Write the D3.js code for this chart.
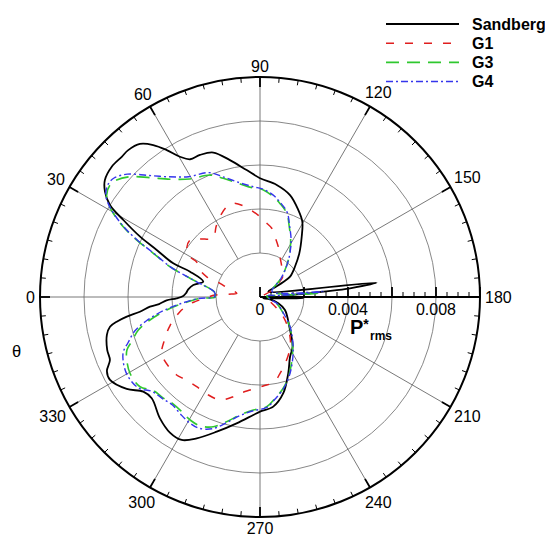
<!DOCTYPE html>
<html>
<head>
<meta charset="utf-8">
<script src="https://cdn.jsdelivr.net/npm/d3@7"></script>
<style>
  html, body { margin: 0; padding: 0; background: #fff; overflow: hidden; }
  text { font-family: "Liberation Sans", Arial, Helvetica, sans-serif; }
</style>
</head>
<body>
<svg id="chart" width="545" height="548"></svg>
<script>
// Directivity of rms pressure: theta in degrees, P*rms values
const seriesNames = ["Sandberg", "G1", "G3", "G4"];

const thetaSandberg = [0.75, 2.9, 6.1, 10.2, 15.1, 19.9, 21.2, 24.5, 26.7, 29.4, 31.5, 34.2, 37.0, 41.3, 45.4, 48.1, 51.9, 54.9, 57.6, 60.3, 63.1, 67.1, 72.1, 77.6, 84.0, 90, 98.5, 106.4, 113.8, 119.3, 124.7, 132.0, 139.1, 145.9, 147.2, 146.8, 147.4, 173.0, 174.5, 175.2, 176.0, 177.5, 181.7, 201.5, 193, 199, 207.5, 225.4, 236.7, 243.3, 249.7, 256.4, 263.1, 270, 273.25, 280.5, 287.8, 294.1, 298.7, 303.6, 309.5, 316.9, 320.95, 325.4, 331.05, 334.2, 337.2, 340.9, 346.1, 348.8, 350.2, 351.6, 353.0, 355.0, 356.0, 357.9, 359.1];
const pSandberg = [0.00349, 0.00337, 0.00328, 0.00308, 0.00267, 0.00338, 0.00423, 0.00516, 0.0061, 0.00713, 0.0080, 0.00852, 0.00883, 0.00897, 0.00895, 0.00897, 0.00884, 0.00844, 0.00791, 0.00734, 0.00702, 0.00701, 0.0069, 0.00637, 0.0058, 0.0054, 0.00515, 0.00483, 0.00432, 0.00393, 0.00333, 0.00267, 0.0021, 0.00165, 0.00126, 0.00072, 0.00045, 0.00534, 0.00411, 0.00289, 0.00197, 0.00106, 0.00196, 0.00016, 0.00047, 0.00088, 0.00128, 0.0019, 0.0027, 0.00304, 0.0037, 0.0045, 0.00502, 0.00521, 0.00537, 0.00584, 0.00643, 0.00704, 0.00741, 0.0074, 0.00715, 0.00674, 0.00683, 0.00736, 0.00779, 0.00773, 0.0074, 0.00735, 0.00717, 0.00695, 0.00661, 0.00612, 0.0055, 0.00502, 0.0046, 0.00425, 0.00379];

const thetaG1 = [2.5, 6.0, 9.0, 15.9, 18.9, 20.8, 24.2, 28.9, 29.9, 33.2, 39.2, 44.0, 51.6, 58.0, 63.5, 69.8, 74.1, 80.6, 90, 93.8, 99.7, 104.0, 110.0, 116.4, 125.6, 138.2, 144.3, 152.1, 163.1, 199.9, 214.1, 222.6, 232.9, 239.5, 249.5, 255.3, 260.6, 267.9, 276.1, 281.7, 285.0, 291.2, 298.8, 305.2, 312.8, 316.9, 321.6, 329.9, 336.5, 342.4, 349.6, 354.3, 355.9, 359.0];
const pG1 = [0.00205, 0.0013, 0.00107, 0.00157, 0.00192, 0.00259, 0.00299, 0.00329, 0.00367, 0.00398, 0.0041, 0.0038, 0.00342, 0.00377, 0.00408, 0.00437, 0.00443, 0.00416, 0.00365, 0.00343, 0.00317, 0.00282, 0.00243, 0.00204, 0.0017, 0.00139, 0.00094, 0.00051, 0.00016, 0.0004, 0.00092, 0.00154, 0.00226, 0.00269, 0.00325, 0.00359, 0.00392, 0.00405, 0.00425, 0.00447, 0.00469, 0.00502, 0.00503, 0.00499, 0.00508, 0.00519, 0.00522, 0.00516, 0.00471, 0.00429, 0.0037, 0.0032, 0.00296, 0.00245];

const thetaG3 = [0.5, 6.0, 13.5, 16.3, 18.6, 22.3, 24.8, 27.2, 29.7, 31.7, 33.6, 36.7, 39.2, 42.8, 47.3, 52.6, 59.3, 67.7, 72.8, 80.0, 86.5, 91.8, 97.6, 102.0, 107.7, 112.6, 118.3, 122.6, 127.4, 132.8, 139.6, 155.6, 176.1, 174.9, 171.5, 193.0, 200.7, 215.0, 224.9, 235.9, 243.1, 249.6, 255.6, 261.6, 266.5, 273.4, 279.6, 285.0, 289.8, 295.0, 299.6, 304.3, 309.0, 313.7, 318.8, 323.2, 329.6, 335.1, 338.3, 340.8, 344.8, 348.2, 352.1, 355.3, 358.6, 359.4];
const pG3 = [0.00204, 0.00207, 0.00296, 0.00363, 0.00432, 0.00524, 0.00617, 0.00699, 0.00768, 0.0081, 0.00837, 0.00851, 0.00841, 0.00805, 0.00738, 0.00674, 0.00624, 0.00599, 0.00565, 0.00522, 0.00496, 0.00487, 0.0046, 0.00435, 0.004, 0.00346, 0.00294, 0.00254, 0.00212, 0.00167, 0.00119, 0.00058, 0.00264, 0.00076, 0.00031, 0.00047, 0.00081, 0.00129, 0.00191, 0.00264, 0.00321, 0.00378, 0.00427, 0.00466, 0.005, 0.00515, 0.00544, 0.00587, 0.00627, 0.00646, 0.00643, 0.00631, 0.00626, 0.00636, 0.00645, 0.00681, 0.00685, 0.00668, 0.00651, 0.00618, 0.00573, 0.00511, 0.00428, 0.0035, 0.00273, 0.00205];

const thetaG4 = [0.5, 6.0, 13.5, 16.3, 18.6, 22.3, 24.8, 27.2, 29.7, 31.7, 33.6, 36.7, 39.2, 42.8, 47.3, 52.6, 59.3, 67.7, 72.8, 80.0, 86.5, 91.8, 97.6, 102.0, 107.7, 112.6, 118.3, 122.6, 127.4, 132.8, 139.6, 155.6, 175.0, 175.6, 171.5, 193.0, 200.7, 215.0, 224.9, 235.9, 243.1, 249.6, 255.6, 261.6, 266.5, 273.4, 279.6, 285.0, 289.8, 295.0, 299.6, 304.3, 309.0, 313.7, 318.8, 323.2, 329.6, 335.1, 338.3, 340.8, 344.8, 348.2, 352.1, 355.3, 358.6, 359.4];
const pG4 = [0.00206, 0.00208, 0.00298, 0.00362, 0.0043, 0.0052, 0.00612, 0.00694, 0.00765, 0.00812, 0.00842, 0.0086, 0.00856, 0.00822, 0.00752, 0.00688, 0.00636, 0.00611, 0.00572, 0.00527, 0.00502, 0.0049, 0.00466, 0.0044, 0.00405, 0.0035, 0.00298, 0.00257, 0.00214, 0.00168, 0.00121, 0.0006, 0.00287, 0.00095, 0.00033, 0.00049, 0.00083, 0.00131, 0.00194, 0.00268, 0.00326, 0.00382, 0.0043, 0.00469, 0.00503, 0.00518, 0.00547, 0.00592, 0.00636, 0.00658, 0.00655, 0.00643, 0.00632, 0.0064, 0.00652, 0.0069, 0.007, 0.00686, 0.00668, 0.00636, 0.0059, 0.00527, 0.0044, 0.0036, 0.0028, 0.0021];

// Axis ticks
const angleTickLabels = [0, 30, 60, 90, 120, 150, 180, 210, 240, 270, 300, 330];
const radialGridValues = [0.002, 0.004, 0.006, 0.008];
const radialTickValues = [0, 0.004, 0.008];
const radialTickLabels = ["0", "0.004", "0.008"];

const cx = 260, cy = 297, R = 220;
const rMax = 0.010;

const svg = d3.select("#chart");
const r = d3.scaleLinear().domain([0, rMax]).range([0, R]);
// theta = 0 points left, 90 up, 180 right (clockwise)
const ang = d3.scaleLinear().domain([0, 360]).range([-Math.PI / 2, 1.5 * Math.PI]);
const px = (t, v) => r(v) * Math.sin(ang(t));
const py = (t, v) => -r(v) * Math.cos(ang(t));

const g = svg.append("g").attr("transform", `translate(${cx},${cy})`);

// grid circles
g.selectAll("circle.grid").data(radialGridValues).join("circle")
  .attr("class", "grid").attr("r", d => r(d))
  .attr("fill", "none").attr("stroke", "#7a7a7a").attr("stroke-width", 0.9);

// spokes
const spokeAngles = angleTickLabels.filter(a => a !== 180);
g.selectAll("line.spoke").data(spokeAngles).join("line")
  .attr("class", "spoke")
  .attr("x1", d => px(d, 0.002)).attr("y1", d => py(d, 0.002))
  .attr("x2", d => px(d, rMax)).attr("y2", d => py(d, rMax))
  .attr("stroke", "#6a6a6a").attr("stroke-width", 0.9);

// angular ticks on the outer circle
const angTicks = d3.range(0, 360, 5);
const tickLen = d => (d % 30 === 0 ? 10 : 5);
g.selectAll("line.atick").data(angTicks).join("line")
  .attr("class", "atick")
  .attr("x1", d => px(d, rMax)).attr("y1", d => py(d, rMax))
  .attr("x2", d => px(d, r.invert(R - tickLen(d)))).attr("y2", d => py(d, r.invert(R - tickLen(d))))
  .attr("stroke", "#000").attr("stroke-width", d => d % 30 === 0 ? 1.8 : 1);

// outer circle
g.append("circle").attr("r", R).attr("fill", "none").attr("stroke", "#000").attr("stroke-width", 2);

// radial axis along theta = 180
g.append("line").attr("x1", 0).attr("y1", 0).attr("x2", r(rMax)).attr("y2", 0)
  .attr("stroke", "#000").attr("stroke-width", 2);
const radTicks = d3.range(0, rMax + 1e-9, 0.0005);
g.selectAll("line.rtick").data(radTicks).join("line")
  .attr("class", "rtick")
  .attr("x1", d => r(d)).attr("x2", d => r(d))
  .attr("y1", 0).attr("y2", (d, i) => i % 4 === 0 ? -10 : -5)
  .attr("stroke", "#000").attr("stroke-width", (d, i) => i % 4 === 0 ? 1.8 : 1);

g.selectAll("text.rlab").data(radialTickValues).join("text")
  .attr("class", "rlab")
  .attr("x", d => r(d)).attr("y", 17.5)
  .attr("text-anchor", "middle").attr("font-size", 16).attr("fill", "#000")
  .text((d, i) => radialTickLabels[i]);

// angular labels, pushed outward by their half extent
const capH = 11.5;
const alab = g.selectAll("text.alab").data(angleTickLabels).join("text")
  .attr("class", "alab")
  .attr("text-anchor", "middle").attr("font-size", 16).attr("fill", "#000")
  .text(d => d);
alab.each(function (d) {
  const w = this.getComputedTextLength();
  const a = ang(d);
  const dist = R + 5 + Math.abs(Math.sin(a)) * w / 2 + Math.abs(Math.cos(a)) * capH / 2;
  d3.select(this).attr("x", dist * Math.sin(a)).attr("y", -dist * Math.cos(a) + capH / 2);
});

// curves
const line = d3.lineRadial()
  .angle(d => ang(d[0]))
  .radius(d => r(d[1]))
  .curve(d3.curveCatmullRomClosed.alpha(0.5));

const styles = {
  Sandberg: { color: "#000000", width: 1.8, dash: null },
  G1: { color: "#e01e1e", width: 1.5, dash: "8,11" },
  G3: { color: "#2fc82f", width: 1.6, dash: "13,8" },
  G4: { color: "#3535ec", width: 1.4, dash: "7,3,2,3" }
};
const seriesData = {
  Sandberg: d3.zip(thetaSandberg, pSandberg),
  G1: d3.zip(thetaG1, pG1),
  G3: d3.zip(thetaG3, pG3),
  G4: d3.zip(thetaG4, pG4)
};
seriesNames.forEach(name => {
  const s = styles[name];
  g.append("path").datum(seriesData[name])
    .attr("d", line)
    .attr("fill", "none").attr("stroke", s.color).attr("stroke-width", s.width)
    .attr("stroke-dasharray", s.dash).attr("stroke-linejoin", "round");
});

// axis titles
const ptitle = svg.append("text").attr("x", 350).attr("y", 334).attr("font-weight", "bold");
ptitle.append("tspan").attr("font-size", 20).text("P");
ptitle.append("tspan").attr("font-size", 14).attr("dy", -5).text("*");
ptitle.append("tspan").attr("font-size", 12).attr("x", 370).attr("y", 340).text("rms");
svg.append("text").attr("x", 16.7).attr("y", 357).attr("text-anchor", "middle").attr("font-size", 16.5).text("θ");

// legend
const legendY = d3.scalePoint().domain(seriesNames).range([24, 81.5]);
const leg = svg.append("g");
seriesNames.forEach(name => {
  const s = styles[name];
  const y = legendY(name);
  leg.append("line").attr("x1", 386).attr("x2", 459).attr("y1", y).attr("y2", y)
    .attr("stroke", s.color).attr("stroke-width", s.width).attr("stroke-dasharray", s.dash);
  leg.append("text").attr("x", 472).attr("y", y + 5.5)
    .attr("font-size", 16).attr("font-weight", "bold").text(name);
});
</script>
</body>
</html>
